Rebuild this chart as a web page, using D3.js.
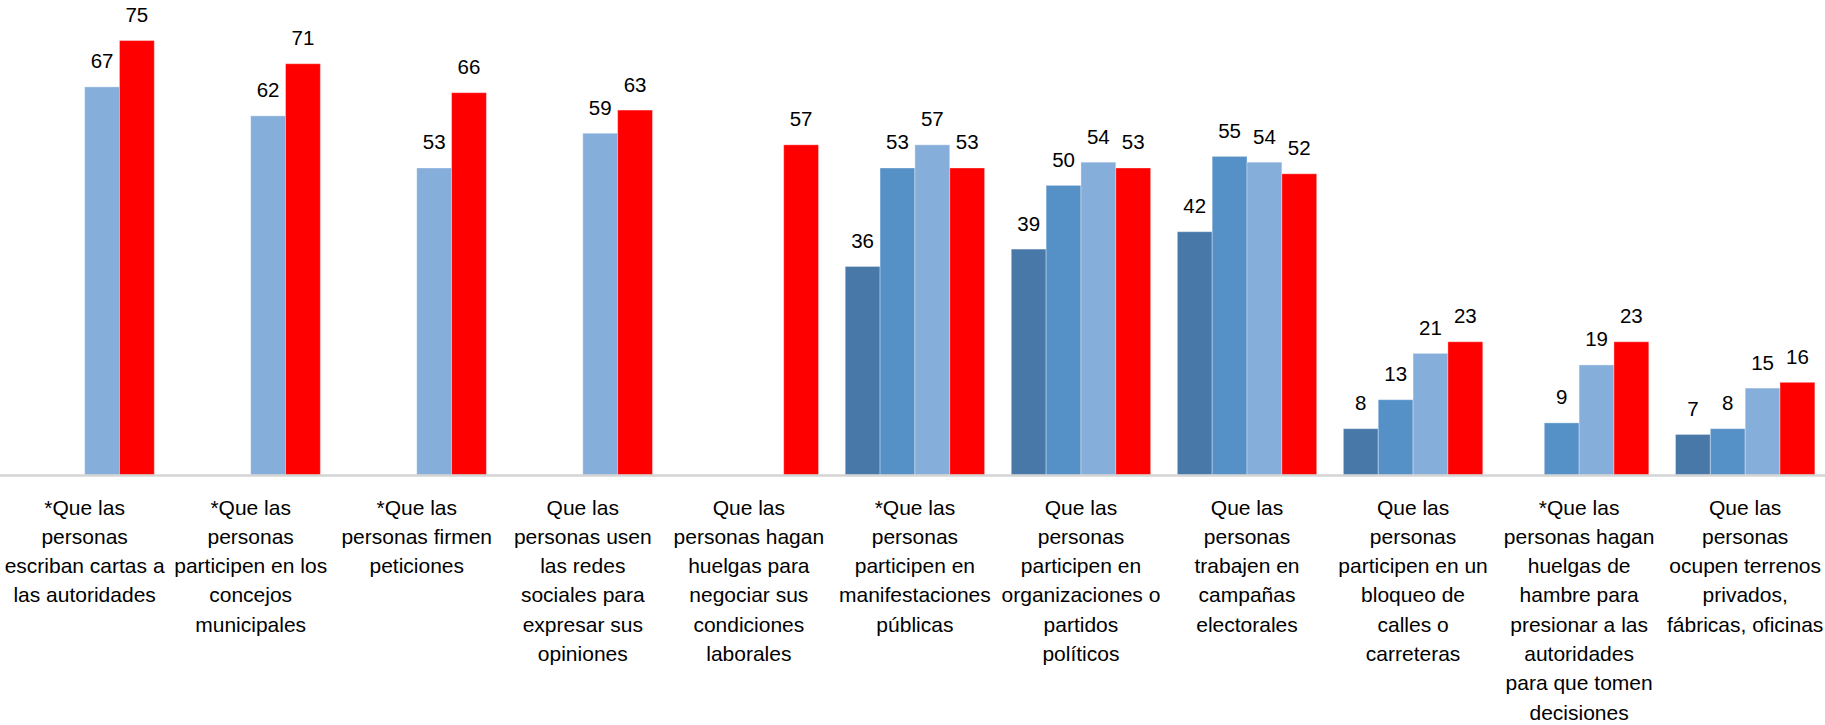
<!DOCTYPE html>
<html>
<head>
<meta charset="utf-8">
<script src="https://cdn.jsdelivr.net/npm/d3@7"></script>
<style>
  html, body { margin: 0; padding: 0; background: #ffffff; }
  svg { display: block; }
</style>
</head>
<body>
<div id="chart"></div>
<script>
// ---- Data ----
const categories = [
  "*Que las personas escriban cartas a las autoridades",
  "*Que las personas participen en los concejos municipales",
  "*Que las personas firmen peticiones",
  "Que las personas usen las redes sociales para expresar sus opiniones",
  "Que las personas hagan huelgas para negociar sus condiciones laborales",
  "*Que las personas participen en manifestaciones públicas",
  "Que las personas participen en organizaciones o partidos políticos",
  "Que las personas trabajen en campañas electorales",
  "Que las personas participen en un bloqueo de calles o carreteras",
  "*Que las personas hagan huelgas de hambre para presionar a las autoridades para que tomen decisiones",
  "Que las personas ocupen terrenos privados, fábricas, oficinas"
];
const categoryLines = [
  ["*Que las", "personas", "escriban cartas a", "las autoridades"],
  ["*Que las", "personas", "participen en los", "concejos", "municipales"],
  ["*Que las", "personas firmen", "peticiones"],
  ["Que las", "personas usen", "las redes", "sociales para", "expresar sus", "opiniones"],
  ["Que las", "personas hagan", "huelgas para", "negociar sus", "condiciones", "laborales"],
  ["*Que las", "personas", "participen en", "manifestaciones", "públicas"],
  ["Que las", "personas", "participen en", "organizaciones o", "partidos", "políticos"],
  ["Que las", "personas", "trabajen en", "campañas", "electorales"],
  ["Que las", "personas", "participen en un", "bloqueo de", "calles o", "carreteras"],
  ["*Que las", "personas hagan", "huelgas de", "hambre para", "presionar a las", "autoridades", "para que tomen", "decisiones"],
  ["Que las", "personas", "ocupen terrenos", "privados,", "fábricas, oficinas"]
];
const seriesNames = ["Serie 1", "Serie 2", "Serie 3", "Serie 4"];
const serie1 = [null, null, null, null, null, 36, 39, 42, 8, null, 7];
const serie2 = [null, null, null, null, null, 53, 50, 55, 13, 9, 8];
const serie3 = [67, 62, 53, 59, null, 57, 54, 54, 21, 19, 15];
const serie4 = [75, 71, 66, 63, 57, 53, 53, 52, 23, 23, 16];
const seriesColors = ["#4878a8", "#5590c7", "#86aedb", "#ff0000"];

// ---- Layout ----
const W = 1825, H = 725;
const baseline = 475;
const svg = d3.select("#chart").append("svg").attr("width", W).attr("height", H);

const seriesValues = [serie1, serie2, serie3, serie4];

const x0 = d3.scaleBand().domain(categories).range([1.6, 1828.2]).paddingInner(0).paddingOuter(0);
const x1 = d3.scaleBand().domain(seriesNames).range([0, x0.bandwidth()]).paddingInner(0).paddingOuter(0.383);
const y = d3.scaleLinear().domain([0, 82]).range([baseline, 0]);

const bars = [];
categories.forEach((c, i) => {
  seriesNames.forEach((s, j) => {
    const v = seriesValues[j][i];
    if (v !== null) bars.push({cat: c, ser: s, j, v});
  });
});

const g = svg.append("g");

g.selectAll("rect.bar").data(bars).enter().append("rect")
  .attr("class", "bar")
  .attr("x", d => x0(d.cat) + x1(d.ser))
  .attr("y", d => y(d.v))
  .attr("width", x1.bandwidth())
  .attr("height", d => y(0) - y(d.v))
  .attr("fill", d => seriesColors[d.j])
  .attr("stroke", "rgba(255,255,255,0.35)")
  .attr("stroke-width", 1);

// axis line
const xAxis = d3.axisBottom(x0).tickSize(0).tickFormat("");
const ax = svg.append("g").attr("transform", `translate(0,${baseline})`).call(xAxis);
ax.select(".domain").attr("stroke", "#d4d4d4").attr("stroke-width", 2.5).attr("d", `M0,0.5H${W}`);

// value labels
g.selectAll("text.val").data(bars).enter().append("text")
  .attr("class", "val")
  .attr("x", d => x0(d.cat) + x1(d.ser) + x1.bandwidth() / 2)
  .attr("y", d => y(d.v) - 18.5)
  .attr("text-anchor", "middle")
  .attr("font-family", "'Liberation Sans', Arial, sans-serif")
  .attr("font-size", "20.5px")
  .attr("fill", "#000")
  .text(d => d.v);

// category labels
const lab = svg.append("g");
categories.forEach((c, i) => {
  const t = lab.append("text")
    .attr("x", x0(c) + x0.bandwidth() / 2)
    .attr("y", 514.5)
    .attr("text-anchor", "middle")
    .attr("font-family", "'Liberation Sans', Arial, sans-serif")
    .attr("font-size", "21px")
    .attr("fill", "#000");
  categoryLines[i].forEach((ln, k) => {
    t.append("tspan")
      .attr("x", x0(c) + x0.bandwidth() / 2)
      .attr("y", 514.5 + k * 29.3)
      .text(ln);
  });
});
</script>
</body>
</html>
